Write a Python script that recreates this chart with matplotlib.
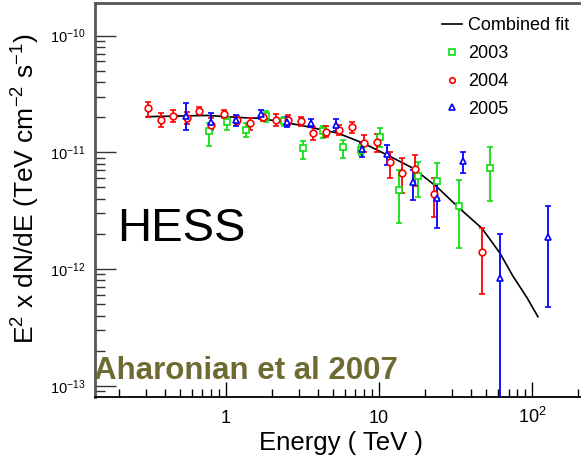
import numpy as np
import matplotlib
matplotlib.use('Agg')
import matplotlib.pyplot as plt
from matplotlib.lines import Line2D
from matplotlib.ticker import (LogLocator, NullFormatter, FixedLocator, FixedFormatter,
                               LogFormatterMathtext)

plt.rcParams['font.family'] = ['Liberation Sans', 'DejaVu Sans']
plt.rcParams['mathtext.default'] = 'regular'

# flux values in units of 1e-11 TeV cm^-2 s^-1, error bars given as (low end, high end)
e_2003 = [0.782, 1.015, 1.356, 1.832, 2.412, 3.208, 4.280, 5.780, 7.630, 10.08,
          13.47, 17.83, 23.79, 33.01, 52.58]
f_2003 = [1.522, 1.828, 1.552, 2.046, 1.872, 1.082, 1.522, 1.110, 1.046, 1.366,
          0.476, 0.627, 0.568, 0.347, 0.730]
lo_2003 = [1.139, 1.552, 1.344, 1.835, 1.680, 0.876, 1.339, 0.888, 0.948, 1.117,
           0.247, 0.414, 0.406, 0.151, 0.385]
hi_2003 = [1.771, 2.017, 1.792, 2.280, 2.025, 1.262, 1.680, 1.287, 1.155, 1.605,
           0.706, 0.831, 0.805, 0.574, 1.104]

e_2004 = [0.313, 0.377, 0.455, 0.557, 0.670, 0.802, 0.979, 1.180, 1.440, 1.743,
          2.120, 2.549, 3.085, 3.727, 4.511, 5.484, 6.636, 7.983, 9.661, 11.80,
          14.07, 17.17, 22.85, 46.77]
f_2004 = [2.380, 1.890, 2.058, 1.955, 2.271, 1.713, 2.128, 1.890, 1.771, 1.994,
          1.890, 1.890, 1.854, 1.477, 1.501, 1.552, 1.647, 1.194, 1.233, 0.831,
          0.661, 0.719, 0.440, 0.141]
lo_2004 = [2.017, 1.656, 1.817, 1.747, 2.128, 1.552, 1.966, 1.747, 1.552, 1.854,
           1.680, 1.713, 1.680, 1.274, 1.352, 1.406, 1.463, 1.012, 1.012, 0.599,
           0.446, 0.515, 0.281, 0.0612]
hi_2004 = [2.713, 2.157, 2.302, 2.213, 2.442, 1.966, 2.302, 2.046, 1.966, 2.128,
           2.128, 2.086, 2.017, 1.656, 1.680, 1.713, 1.828, 1.406, 1.426, 1.012,
           0.888, 0.948, 0.599, 0.224]

e_2005 = [0.548, 0.798, 1.162, 1.692, 2.493, 3.601, 5.267, 7.711, 11.33, 16.54,
          23.89, 35.47, 61.55, 127.2]
f_2005 = [2.046, 1.806, 1.890, 2.115, 1.828, 1.782, 1.713, 1.061, 0.967, 0.560,
          0.406, 0.851, 0.0834, 0.188]
lo_2005 = [1.552, 1.605, 1.680, 1.917, 1.656, 1.647, 1.522, 0.912, 0.779, 0.387,
           0.224, 0.669, 0.0001, 0.0474]
hi_2005 = [2.628, 2.183, 2.086, 2.302, 1.994, 1.928, 1.917, 1.201, 1.155, 0.706,
           0.579, 1.012, 0.200, 0.347]

fit_e = [0.305, 0.752, 1.30, 1.67, 3.05, 5.40, 7.87, 11.3, 16.7, 23.9, 32.8, 47.0,
         61.5, 74.8, 92.3, 108.9]
fit_f = [2.02, 2.07, 1.98, 1.96, 1.71, 1.46, 1.20, 0.95, 0.73, 0.505, 0.340, 0.223,
         0.137, 0.087, 0.057, 0.039]

x_ticks = [1, 10, 100]
x_ticklabels = ['1', '10', '10$^{2}$']
y_ticks = [1e-13, 1e-12, 1e-11, 1e-10]

unit = 1e-11

fig = plt.figure(figsize=(5.81, 4.58), dpi=100)
ax = fig.add_axes([0.1635, 0.1332, 0.8365, 0.8602])
ax.set_xscale('log')
ax.set_yscale('log')

ax.plot(np.array(fit_e), np.array(fit_f) * unit, color='black', lw=1.2, zorder=2)

series = [
    (e_2003, f_2003, lo_2003, hi_2003, '#11dd11', 's'),
    (e_2004, f_2004, lo_2004, hi_2004, '#ff0000', 'o'),
    (e_2005, f_2005, lo_2005, hi_2005, '#0000ff', '^'),
]
for e, f, lo, hi, col, mk in series:
    f = np.array(f) * unit
    yerr = [f - np.array(lo) * unit, np.array(hi) * unit - f]
    ax.errorbar(e, f, yerr=yerr, fmt=mk, color=col, mfc='white', mec=col,
                ms=4.8, mew=1.2, elinewidth=1.3, capsize=2.5, capthick=1.2, zorder=3)

ax.set_xlim(0.1404, 207.8)
ax.set_ylim(8.03e-14, 1.90e-10)

ax.spines['right'].set_visible(False)
ax.spines['top'].set_color('#555555')
ax.spines['top'].set_linewidth(2)
ax.spines['left'].set_color('#555555')
ax.spines['left'].set_linewidth(2)
ax.spines['bottom'].set_linewidth(1.3)

ax.xaxis.set_major_locator(FixedLocator(x_ticks))
ax.xaxis.set_major_formatter(FixedFormatter(x_ticklabels))
ax.xaxis.set_minor_locator(LogLocator(base=10, subs=np.arange(2, 10)))
ax.xaxis.set_minor_formatter(NullFormatter())
ax.yaxis.set_major_locator(FixedLocator(y_ticks))
ax.yaxis.set_major_formatter(LogFormatterMathtext())
ax.yaxis.set_minor_locator(LogLocator(base=10, subs=np.arange(2, 10)))
ax.yaxis.set_minor_formatter(NullFormatter())

ax.tick_params(axis='x', which='major', direction='in', length=11, width=1, pad=18.5,
               labelsize=13, top=False)
ax.tick_params(axis='x', which='minor', direction='in', length=6, width=1, top=False)
ax.tick_params(axis='y', which='major', direction='in', length=15, width=1, pad=7,
               labelsize=10.5, right=False, color='#333333')
ax.tick_params(axis='y', which='minor', direction='in', length=7.5, width=1,
               right=False, color='#333333')

ax.set_xlabel('Energy ( TeV )', fontsize=18.5)
ax.xaxis.set_label_coords(0.506, -0.086)
ax.set_ylabel('E$^{2}$ x dN/dE (TeV cm$^{-2}$ s$^{-1}$)', fontsize=19)
ax.yaxis.set_label_coords(-0.11, 0.529)

ax.text(0.045, 0.397, 'HESS', transform=ax.transAxes, fontsize=34,
        ha='left', va='baseline', color='black')
ax.text(-0.002, 0.045, 'Aharonian et al 2007', transform=ax.transAxes, fontsize=22.5,
        fontweight='bold', ha='left', va='baseline', color='#6e6b32',
        zorder=5, clip_on=False)

handles = [
    Line2D([], [], color='black', lw=1.2),
    Line2D([], [], ls='none', marker='s', color='#11dd11', mfc='white', ms=4, mew=1.2),
    Line2D([], [], ls='none', marker='o', color='#ff0000', mfc='white', ms=4, mew=1.2),
    Line2D([], [], ls='none', marker='^', color='#0000ff', mfc='white', ms=4, mew=1.2),
]
ax.legend(handles, ['Combined fit', '2003', '2004', '2005'], loc='upper left',
          bbox_to_anchor=(0.714, 0.964), frameon=False, fontsize=13,
          handlelength=1.1, handletextpad=0.35, labelspacing=0.6,
          borderpad=0, borderaxespad=0)

# put the x tick labels on a common baseline so 10^2 lines up with 1 and 10
fig.canvas.draw()
for tick in ax.xaxis.get_major_ticks():
    tick.label1.set_va('baseline')

fig.savefig('out.png', dpi=100)
